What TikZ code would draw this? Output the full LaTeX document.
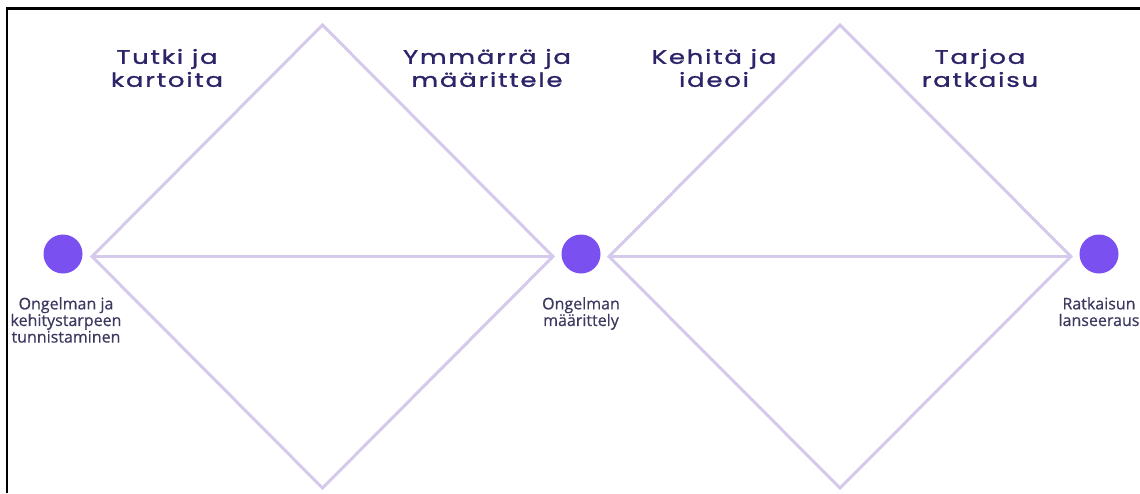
\documentclass[tikz,border=0pt]{standalone}
\usepackage{fontspec}
\setmainfont{Open Sans}[FakeBold=0.5]
\newfontfamily\headfont{Poppins}[FakeStretch=1.33,FakeBold=1.2,LetterSpace=9]
\definecolor{lav}{HTML}{D5C9EC}
\definecolor{dot}{HTML}{7A50F0}
\definecolor{headc}{HTML}{2B2468}
\definecolor{labc}{HTML}{3C3960}
\begin{document}
\begin{tikzpicture}[x=1pt,y=-1pt,
  edge/.style={draw=lav,line width=3pt,line join=miter},
  stage/.style={circle,fill=dot,minimum size=39pt,inner sep=0pt},
  lab/.style={align=center,text=labc,font=\fontsize{16}{16.6}\selectfont,anchor=north,inner sep=0pt},
  head/.style={align=center,text=headc,font=\headfont\fontsize{19.5}{23}\selectfont,inner sep=0pt}]
\useasboundingbox (0,0) rectangle (1140,493);
\fill[white] (0,0) rectangle (1140,493);
\draw[black,line width=2.5pt] (7,8.5) -- (1140,8.5);
\draw[black,line width=2.5pt] (7,7.3) -- (7,493);
% diamond 1
\coordinate (l1) at (92,256.5);
\coordinate (t1) at (322.5,25);
\coordinate (r1) at (553,256.5);
\coordinate (b1) at (322.5,488);
% diamond 2
\coordinate (l2) at (609,256.5);
\coordinate (t2) at (840,25);
\coordinate (r2) at (1071,256.5);
\coordinate (b2) at (840,488);
\path[edge] (l1) -- (t1) -- (r1) -- (b1) -- cycle;
\path[edge] (l1) -- (r1);
\path[edge] (l2) -- (t2) -- (r2) -- (b2) -- cycle;
\path[edge] (l2) -- (r2);
\node[stage] (s1) at (63,254) {};
\node[stage] (s2) at (581,254) {};
\node[stage] (s3) at (1099,254) {};
\node[lab] (s1t) at (66,297) {Ongelman ja\\kehitystarpeen\\tunnistaminen};
\node[lab] (s2t) at (581,297) {Ongelman\\määrittely};
\node[lab] (s3t) at (1099,297) {Ratkaisun\\lanseeraus};
\node[head] (h1) at (167,68) {Tutki ja\\kartoita};
\node[head] (h2) at (487,68) {Ymmärrä ja\\määrittele};
\node[head] (h3) at (714,68) {Kehitä ja\\ideoi};
\node[head] (h4) at (980,68) {Tarjoa\\ratkaisu};
\end{tikzpicture}
\end{document}
